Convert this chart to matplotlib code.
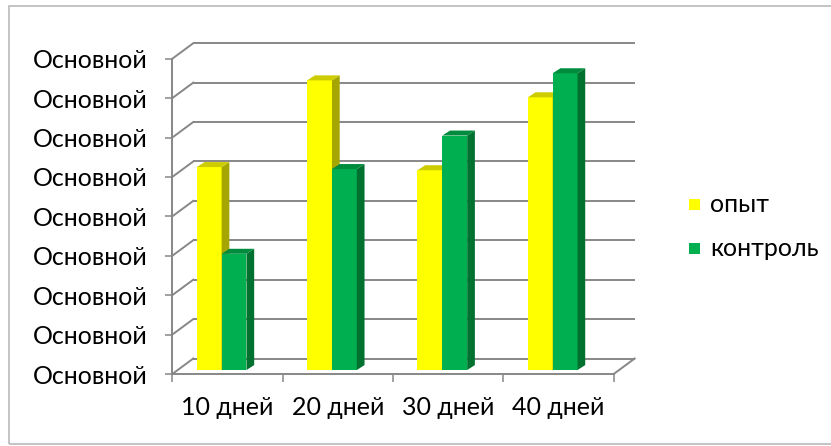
import matplotlib
matplotlib.use("Agg")
import matplotlib.pyplot as plt
from matplotlib.patches import Polygon, Rectangle

# ---- data -------------------------------------------------------------
categories = ["10 дней", "20 дней", "30 дней", "40 дней"]
series_names = ["опыт", "контроль"]
opyt = [5.15, 7.35, 5.07, 6.92]
kontrol = [2.95, 5.10, 5.95, 7.53]
y_tick_values = [0, 1, 2, 3, 4, 5, 6, 7, 8]
y_tick_labels = ["Основной"] * len(y_tick_values)

# ---- style ------------------------------------------------------------
plt.rcParams["font.family"] = ["Lato", "Open Sans", "DejaVu Sans"]
FS = 18
GRID = "#878787"
front_colors = ["#FFFF00", "#00B050"]
side_colors = ["#A6A600", "#00712F"]
top_colors = ["#CCCC00", "#008B3D"]

# pseudo-3D geometry (data units)
WALL_DX, WALL_DY = 0.19, 0.393     # back-wall offset
FLOOR_Z = 0.10                     # bars stand a little behind the front edge
BAR_X0, BAR_W = 0.222, 0.225
SIDE_DX, SIDE_DY = 0.07, 0.127

W, H = 831, 446
fig = plt.figure(figsize=(W / 100, H / 100), dpi=100)
ax = fig.add_axes([172.3 / W, 1 - 374 / H, (613.7 - 172.3) / W, (374 - 58.7) / H])
ax.set_xlim(0, len(categories))
ax.set_ylim(y_tick_values[0], y_tick_values[-1])
ax.patch.set_visible(False)

# back wall gridlines and the diagonal links to the front axis
nc = len(categories)
for v in y_tick_values:
    ax.plot([WALL_DX, nc + WALL_DX], [v + WALL_DY] * 2, color=GRID, lw=1.4,
            clip_on=False, zorder=1, solid_capstyle="butt")
    ax.plot([0, WALL_DX], [v, v + WALL_DY], color=GRID, lw=1.4,
            clip_on=False, zorder=1)
# right edge of the floor
ax.plot([nc, nc + WALL_DX], [0, WALL_DY], color=GRID, lw=1.4, clip_on=False, zorder=1)

# bars: front faces through ax.bar, side and top faces as polygons
for j, vals in enumerate([opyt, kontrol]):
    z = 3 + j
    lefts = [i + BAR_X0 + j * BAR_W for i in range(nc)]
    ax.bar(lefts, vals, width=BAR_W, bottom=FLOOR_Z, align="edge",
           color=front_colors[j], zorder=z, clip_on=False, linewidth=0)
    for l, v in zip(lefts, vals):
        r = l + BAR_W
        b = FLOOR_Z
        t = FLOOR_Z + v
        ax.add_patch(Polygon([(r, b), (r + SIDE_DX, b + SIDE_DY),
                              (r + SIDE_DX, t + SIDE_DY), (r, t)],
                             closed=True, facecolor=side_colors[j],
                             edgecolor="none", zorder=z, clip_on=False))
        ax.add_patch(Polygon([(l, t), (r, t), (r + SIDE_DX, t + SIDE_DY),
                              (l + SIDE_DX, t + SIDE_DY)],
                             closed=True, facecolor=top_colors[j],
                             edgecolor="none", zorder=z, clip_on=False))

# axes: front vertical axis and front floor edge
for s in ["top", "right"]:
    ax.spines[s].set_visible(False)
for s in ["left", "bottom"]:
    ax.spines[s].set_color(GRID)
    ax.spines[s].set_linewidth(1.4)
    ax.spines[s].set_zorder(2)

ax.set_yticks(y_tick_values)
ax.set_yticklabels(y_tick_labels, fontsize=FS, color="black")
ax.tick_params(axis="y", length=5, width=1.1, color=GRID, pad=13)

ax.set_xticks(range(nc + 1))
ax.set_xticklabels([])
ax.set_xticks([i + 0.5 for i in range(nc)], minor=True)
ax.set_xticklabels(categories, minor=True, fontsize=FS, color="black")
ax.tick_params(axis="x", which="major", length=6, width=1.1, color=GRID)
ax.tick_params(axis="x", which="minor", length=0, pad=16)

# legend
legend_y = [204.5, 248.5]
for name, col, ly in zip(series_names, front_colors, legend_y):
    fig.add_artist(Rectangle((689 / W, 1 - (ly + 5.5) / H), 11 / W, 11 / H,
                             transform=fig.transFigure, facecolor=col,
                             edgecolor="none"))
    fig.text(710 / W, 1 - ly / H, name, fontsize=FS, va="center", ha="left")

# chart frame
fig.add_artist(Rectangle((9 / W, 1 - 444.3 / H), (W + 10) / W, (444.3 - 5.7) / H,
                         transform=fig.transFigure, facecolor="none",
                         edgecolor="#B4B4B4", linewidth=1.1))

fig.savefig("out.png", dpi=100)
